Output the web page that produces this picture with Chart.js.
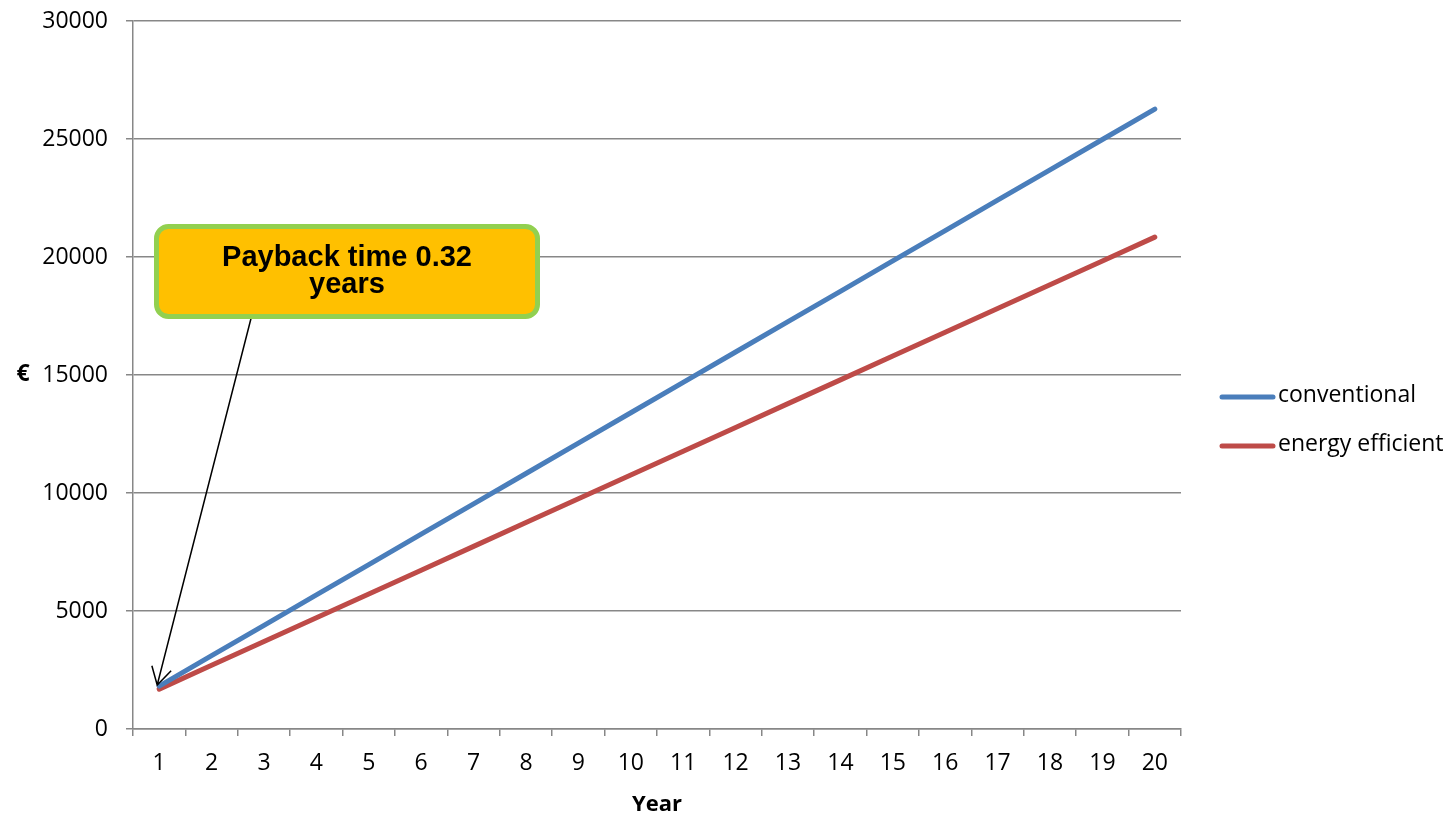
<!DOCTYPE html>
<html>
<head>
<meta charset="utf-8">
<title>Payback</title>
<script src="https://cdn.jsdelivr.net/npm/chart.js@4.4.1/dist/chart.umd.min.js"></script>
<style>
  html, body { margin: 0; padding: 0; background: #fff; }
</style>
</head>
<body>
<canvas id="paybackChart" width="1456" height="816"></canvas>
<script>
const years = ["1", "2", "3", "4", "5", "6", "7", "8", "9", "10",
  "11", "12", "13", "14", "15", "16", "17", "18", "19", "20"];

// cumulative cost in euro per year
const conventional = [1820, 3107, 4393, 5680, 6967, 8254, 9540, 10827, 12114, 13400,
  14687, 15974, 17260, 18547, 19834, 21120, 22407, 23694, 24980, 26267];
const energyEfficient = [1690, 2698, 3706, 4714, 5722, 6730, 7738, 8746, 9754, 10762,
  11770, 12778, 13786, 14794, 15802, 16810, 17818, 18826, 19834, 20842];

const yTicks = [0, 5000, 10000, 15000, 20000, 25000, 30000];
const seriesNames = ["conventional", "energy efficient"];
const seriesColors = ["#4A7EBB", "#BE4B48"];
const calloutLines = ["Payback time 0.32", "years"];

const gridColor = "#878787";
const axisFont = { family: "Open Sans", size: 23 };

// callout box with arrow pointing at the first year
const calloutPlugin = {
  id: "paybackCallout",
  afterDatasetsDraw(chart) {
    const { ctx, chartArea } = chart;
    const pt = chart.getDatasetMeta(0).data[0];
    const tipX = pt.x - 2;
    const tipY = pt.y - 1;
    const box = { x: chartArea.left + 23.5, y: chartArea.top + 205.5, w: 381, h: 90, r: 12 };
    const startX = box.x + 95;
    const startY = box.y + box.h;

    ctx.save();
    ctx.strokeStyle = "#000";
    ctx.lineWidth = 1.5;
    ctx.beginPath();
    ctx.moveTo(startX, startY);
    ctx.lineTo(tipX, tipY);
    const ang = Math.atan2(startY - tipY, startX - tipX);
    const len = 20;
    ctx.moveTo(tipX + len * Math.cos(ang - 0.52), tipY + len * Math.sin(ang - 0.52));
    ctx.lineTo(tipX, tipY);
    ctx.lineTo(tipX + len * Math.cos(ang + 0.52), tipY + len * Math.sin(ang + 0.52));
    ctx.stroke();

    ctx.beginPath();
    ctx.roundRect(box.x, box.y, box.w, box.h, box.r);
    ctx.fillStyle = "#FFC000";
    ctx.fill();
    ctx.lineWidth = 5;
    ctx.strokeStyle = "#92D050";
    ctx.stroke();

    ctx.fillStyle = "#000";
    ctx.font = "bold 29px 'Liberation Sans', Arial, sans-serif";
    ctx.textAlign = "center";
    ctx.textBaseline = "alphabetic";
    const cx = box.x + box.w / 2;
    ctx.fillText(calloutLines[0], cx, box.y + 39);
    ctx.fillText(calloutLines[1], cx, box.y + 66);
    ctx.restore();
  },
  afterDraw(chart) {
    const { ctx } = chart;
    ctx.save();
    // y axis title, drawn upright
    ctx.fillStyle = "#000";
    ctx.font = "bold 23px 'Open Sans'";
    ctx.textAlign = "center";
    ctx.textBaseline = "middle";
    ctx.fillText("€", 23, 374);

    // legend
    ctx.font = "23px 'Open Sans'";
    ctx.textAlign = "left";
    seriesNames.forEach((name, i) => {
      const y = 397 + i * 49;
      ctx.strokeStyle = seriesColors[i];
      ctx.lineWidth = 5;
      ctx.lineCap = "round";
      ctx.beginPath();
      ctx.moveTo(1222, y);
      ctx.lineTo(1273, y);
      ctx.stroke();
      ctx.fillStyle = "#000";
      ctx.fillText(name, 1278, y - 2);
    });
    ctx.restore();
  }
};

const ctx = document.querySelector("#paybackChart");

const chart = new Chart(ctx, {
  type: "line",
  data: {
    labels: years,
    datasets: [
      {
        label: seriesNames[0],
        data: conventional,
        borderColor: seriesColors[0],
        backgroundColor: seriesColors[0],
        borderWidth: 5,
        borderCapStyle: "round",
        pointRadius: 0,
        tension: 0,
      },
      {
        label: seriesNames[1],
        data: energyEfficient,
        borderColor: seriesColors[1],
        backgroundColor: seriesColors[1],
        borderWidth: 5,
        borderCapStyle: "round",
        pointRadius: 0,
        tension: 0,
      },
    ],
  },
  options: {
    responsive: false,
    animation: false,
    layout: { padding: { left: 0, top: 21, right: 275, bottom: 0 } },
    plugins: {
      legend: { display: false },
      tooltip: { enabled: false },
    },
    scales: {
      x: {
        type: "category",
        offset: true,
        afterFit: (scale) => { scale.height = 87; },
        grid: {
          offset: true,
          drawOnChartArea: false,
          drawTicks: true,
          tickLength: 7,
          color: gridColor,
          lineWidth: 1.5,
        },
        border: { display: true, color: gridColor, width: 1.5 },
        ticks: { color: "#000", font: axisFont, padding: 14, maxRotation: 0 },
        title: {
          display: true,
          text: "Year",
          color: "#000",
          font: { family: "Open Sans", size: 22, weight: "bold", lineHeight: 1 },
          padding: { top: 0, bottom: 0 },
        },
      },
      y: {
        min: 0,
        max: 30000,
        afterFit: (scale) => {
          scale.width = 133;
          scale.paddingTop = 0;
          scale.paddingBottom = 0;
        },
        afterBuildTicks: (scale) => { scale.ticks = yTicks.map((v) => ({ value: v })); },
        grid: { color: gridColor, lineWidth: 1.5, tickLength: 7 },
        border: { display: true, color: gridColor, width: 1.5 },
        ticks: {
          color: "#000",
          font: axisFont,
          padding: 18,
          callback: (value) => String(value),
        },
      },
    },
  },
  plugins: [calloutPlugin],
});
</script>
</body>
</html>
